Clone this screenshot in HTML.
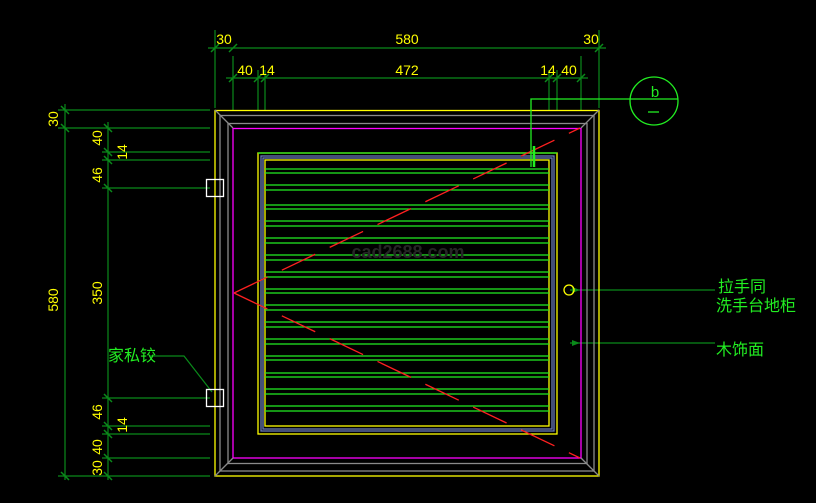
<!DOCTYPE html>
<html><head><meta charset="utf-8"><style>
html,body{margin:0;padding:0;background:#000;width:816px;height:503px;overflow:hidden}
text{font-family:"Liberation Sans","Noto Sans CJK SC",sans-serif}
</style></head><body>
<svg width="816" height="503" viewBox="0 0 816 503" xmlns="http://www.w3.org/2000/svg">
<rect width="816" height="503" fill="#000"/>
<g stroke="#0a8a1a" stroke-width="1.2" fill="none">
 <line x1="215" y1="30" x2="215" y2="108"/><line x1="599" y1="30" x2="599" y2="108"/>
 <line x1="208" y1="48" x2="606" y2="48"/>
 <line x1="233" y1="56" x2="233" y2="110"/><line x1="258" y1="70" x2="258" y2="110"/><line x1="265" y1="70" x2="265" y2="110"/>
 <line x1="549" y1="70" x2="549" y2="110"/><line x1="557" y1="70" x2="557" y2="110"/><line x1="581" y1="56" x2="581" y2="110"/>
 <line x1="226" y1="78" x2="588" y2="78"/>
 <line x1="58" y1="110" x2="210" y2="110"/><line x1="58" y1="128" x2="210" y2="128"/>
 <line x1="58" y1="476" x2="210" y2="476"/>
 <line x1="65" y1="104" x2="65" y2="480"/>
 <line x1="108" y1="122" x2="108" y2="480"/>
 <line x1="102" y1="152" x2="210" y2="152"/><line x1="102" y1="160" x2="210" y2="160"/><line x1="102" y1="188" x2="210" y2="188"/>
 <line x1="102" y1="398" x2="210" y2="398"/><line x1="102" y1="426" x2="210" y2="426"/><line x1="102" y1="434" x2="210" y2="434"/><line x1="102" y1="458" x2="210" y2="458"/>
 <g stroke-width="1.5">
 <path d="M211 52l8-8M229 52l8-8M595 52l8-8M229 82l8-8M254 82l8-8M261 82l8-8M545 82l8-8M553 82l8-8M577 82l8-8"/>
 <path d="M61 106l8 8M61 124l8 8M61 472l8 8M104 124l8 8M104 148l8 8M104 156l8 8M104 184l8 8M104 394l8 8M104 422l8 8M104 430l8 8M104 454l8 8M104 472l8 8"/>
 </g>
 <line x1="570" y1="290" x2="715" y2="290"/>
 <line x1="570" y1="343" x2="715" y2="343"/>
 <polyline points="150,356 184,356 212,392"/>
</g>
<path d="M572 287l8 3-8 3zM572 340l8 3-8 3z" fill="#0a8a1a"/>
<g fill="#ffff00" font-size="14">
 <text x="224" y="44" text-anchor="middle">30</text>
 <text x="407" y="44" text-anchor="middle">580</text>
 <text x="591" y="44" text-anchor="middle">30</text>
 <text x="245" y="75" text-anchor="middle">40</text>
 <text x="267" y="75" text-anchor="middle">14</text>
 <text x="407" y="75" text-anchor="middle">472</text>
 <text x="548" y="75" text-anchor="middle">14</text>
 <text x="569" y="75" text-anchor="middle">40</text>
 <g text-anchor="middle">
 <text transform="translate(58,119) rotate(-90)">30</text>
 <text transform="translate(58,300) rotate(-90)">580</text>
 <text transform="translate(102,138) rotate(-90)">40</text>
 <text transform="translate(127,152) rotate(-90)">14</text>
 <text transform="translate(102,175) rotate(-90)">46</text>
 <text transform="translate(102,293) rotate(-90)">350</text>
 <text transform="translate(102,412) rotate(-90)">46</text>
 <text transform="translate(127,425) rotate(-90)">14</text>
 <text transform="translate(102,447) rotate(-90)">40</text>
 <text transform="translate(102,468) rotate(-90)">30</text>
 </g>
</g>
<g fill="none" stroke-width="1.3">
 <rect x="215" y="110.5" width="384" height="365.5" stroke="#ffff00"/>
 <rect x="220" y="115.5" width="374" height="355.5" stroke="#8a8a8a"/>
 <rect x="228" y="123.5" width="359" height="340" stroke="#8a8a8a"/>
 <rect x="233" y="128.5" width="348" height="329.5" stroke="#ff00ff"/>
 <path d="M215 110l18 18M599 110l-18 18M215 476l18-18M599 476l-18-18" stroke="#8a8a8a"/>
 <rect x="258" y="153" width="299" height="281" stroke="#ffff00"/>
 <rect x="261" y="156" width="293" height="275" stroke="#6a7ab8"/>
 <rect x="263" y="158" width="289" height="271" stroke="#6a7ab8"/>
 <rect x="265" y="160" width="284" height="266" stroke="#ffff00"/>
</g>
<g stroke="#22ee22" stroke-width="1.3">
 <line x1="258" y1="153" x2="557" y2="153"/>
 <path d="M265 169H549M265 173H549M265 185H549M265 190H549M265 205H549M265 209H549M265 221H549M265 226H549M265 238H549M265 243H549M265 255H549M265 260H549M265 272H549M265 277H549M265 289H549M265 293H549M265 305H549M265 310H549M265 322H549M265 327H549M265 339H549M265 344H549M265 356H549M265 360H549M265 373H549M265 377H549M265 389H549M265 394H549M265 406H549M265 411H549"/>
</g>
<g stroke="#ff2020" stroke-width="1.3" stroke-dasharray="37,16" fill="none">
 <line x1="234" y1="293" x2="580" y2="128"/>
 <line x1="234" y1="293" x2="580" y2="458"/>
</g>
<text x="408" y="258" fill="#262626" font-size="18" font-weight="bold" text-anchor="middle">cad2688.com</text>
<g fill="none" stroke="#fff" stroke-width="1.3">
 <rect x="206.5" y="179.5" width="17" height="17"/>
 <rect x="206.5" y="389.5" width="17" height="17"/>
</g>
<circle cx="569" cy="290" r="5" fill="none" stroke="#ffff00" stroke-width="1.3"/>
<g stroke="#22ee22" stroke-width="1.3" fill="none">
 <circle cx="654" cy="101" r="24"/>
 <polyline points="678,99 531,99 531,167"/>
 <line x1="534" y1="146" x2="534" y2="167" stroke-width="2.5"/>
 <line x1="648" y1="112" x2="659" y2="112"/>
</g>
<text x="655" y="97" fill="#22ee22" font-size="15" text-anchor="middle">b</text>
<g fill="#22ee22" font-size="16">
 <text x="718" y="292">拉手同</text>
 <text x="716" y="311">洗手台地柜</text>
 <text x="716" y="355">木饰面</text>
 <text x="108" y="361">家私铰</text>
</g>
</svg>
</body></html>
